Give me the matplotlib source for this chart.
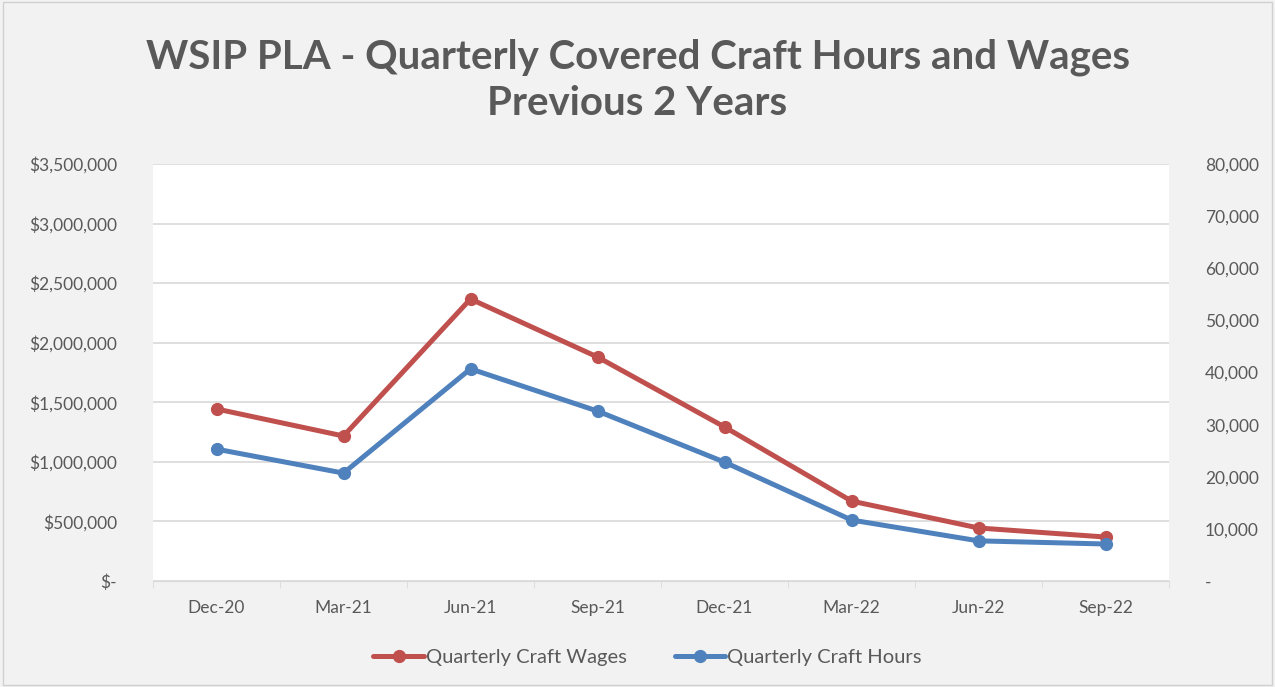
import matplotlib.pyplot as plt
from matplotlib.ticker import FuncFormatter
from matplotlib.patches import Rectangle

quarters = ["Dec-20", "Mar-21", "Jun-21", "Sep-21", "Dec-21", "Mar-22", "Jun-22", "Sep-22"]
wages = [1444000, 1217000, 2367000, 1880000, 1293000, 671000, 445000, 369000]
hours = [25300, 20700, 40700, 32600, 22800, 11700, 7700, 7100]

red = "#C0504D"
blue = "#4F81BD"
txt = "#595959"

plt.rcParams['font.family'] = ['Lato', 'DejaVu Sans']

fig = plt.figure(figsize=(12.75, 6.87), dpi=100, facecolor="#F2F2F2")
fig.patches.append(Rectangle((0.002, 0.003), 0.996, 0.994, transform=fig.transFigure,
                             fill=False, edgecolor="#D0D0D0", linewidth=1))
ax = fig.add_axes([153 / 1275, 1 - 581 / 687, (1169 - 153) / 1275, (581 - 164) / 687])
ax.set_facecolor("white")
ax2 = ax.twinx()

x = list(range(len(quarters)))
l1, = ax.plot(x, wages, color=red, lw=3.6, marker="o", ms=8.5, label="Quarterly Craft Wages",
              solid_capstyle="round")
l2, = ax2.plot(x, hours, color=blue, lw=3.6, marker="o", ms=8.5, label="Quarterly Craft Hours",
               solid_capstyle="round")

ax.set_xlim(-0.5, len(quarters) - 0.5)
ax.set_ylim(0, 3500000)
ax2.set_ylim(0, 80000)
ax.set_yticks(range(0, 3500001, 500000))
ax2.set_yticks(range(0, 80001, 10000))
ax.yaxis.set_major_formatter(FuncFormatter(lambda v, p: "$-" if v == 0 else f"${v:,.0f}"))
ax2.yaxis.set_major_formatter(FuncFormatter(lambda v, p: "-" if v == 0 else f"{v:,.0f}"))
ax.grid(axis="y", color="#D9D9D9", lw=1.2)
ax.set_axisbelow(True)

ax.set_xticks(x)
ax.set_xticklabels(quarters)
ax.set_xticks([i - 0.5 for i in range(len(quarters) + 1)], minor=True)
ax.tick_params(axis="x", which="major", length=0, pad=14, labelsize=12.5, labelcolor=txt)
ax.tick_params(axis="x", which="minor", length=5, color="#D9D9D9")
ax.tick_params(axis="y", length=0, pad=26, labelsize=12.5, labelcolor=txt)
ax2.tick_params(axis="y", length=0, pad=26, labelsize=12.5, labelcolor=txt)

for a in (ax, ax2):
    for s in a.spines.values():
        s.set_visible(False)
ax.spines["bottom"].set_visible(True)
ax.spines["bottom"].set_color("#D9D9D9")

fig.text(0.5, 1 - 80 / 687, "WSIP PLA - Quarterly Covered Craft Hours and Wages\nPrevious 2 Years",
         ha="center", va="center", fontsize=29, fontweight="bold", color=txt, linespacing=1.3)

fig.legend(handles=[l1, l2], loc="center", bbox_to_anchor=(0.508, 0.043), ncol=2, frameon=False,
           fontsize=14.5, labelcolor=txt, handlelength=2.5, handletextpad=0.1, columnspacing=2.4)

fig.savefig("out.png", dpi=100, facecolor=fig.get_facecolor())
